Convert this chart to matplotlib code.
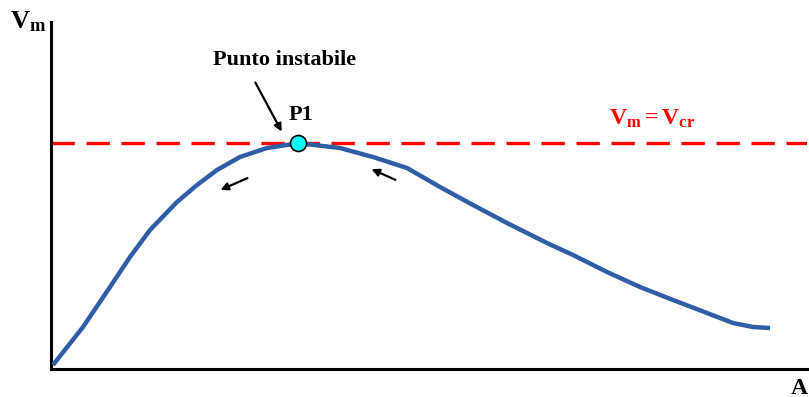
import matplotlib
matplotlib.use("Agg")
import matplotlib.pyplot as plt

plt.rcParams['font.family'] = ['Liberation Serif', 'DejaVu Serif']
plt.rcParams['mathtext.fontset'] = 'custom'
plt.rcParams['mathtext.rm'] = 'Liberation Serif:bold'
plt.rcParams['mathtext.bf'] = 'Liberation Serif:bold'
plt.rcParams['mathtext.it'] = 'Liberation Serif:bold'

# curve V_m(A), arbitrary units
a_vals = [2, 32, 59, 79, 99, 126, 146, 166, 189, 216, 239, 247, 259, 289, 322,
          356, 389, 422, 456, 496, 522, 556, 589, 622, 656, 682, 702, 719]
vm_vals = [4, 42, 82, 112, 139, 167, 184, 199, 212, 221, 224.5, 225, 224.5, 221, 212,
           201, 182, 164, 146, 126, 114, 97, 82, 69, 56, 46, 42, 41]
v_cr = 226
p1 = (247, 226)

fig = plt.figure(figsize=(8.09, 3.97), dpi=100)
ax = fig.add_axes([51 / 809, 28 / 397, 756 / 809, 347 / 397])
ax.set_xlim(0, 756)
ax.set_ylim(0, 347)

ax.axhline(v_cr, color='#ff0000', lw=2.4, ls=(0, (7, 3.5)), zorder=2)
ax.plot(a_vals, vm_vals, color='#2f5ea6', lw=3.2, zorder=3,
        solid_capstyle='butt', solid_joinstyle='round')
ax.plot(*p1, 'o', ms=11.5, mfc='#00ffff', mec='black', mew=1.2, zorder=4)

for s in ['top', 'right']:
    ax.spines[s].set_visible(False)
for s in ['left', 'bottom']:
    ax.spines[s].set_linewidth(2.2)
ax.set_xticks([])
ax.set_yticks([])

fig.text(10 / 809, 1 - 22 / 397, r'$V_m$', fontsize=19, va='center', ha='left')
fig.text(808 / 809, 1 - 388 / 397, 'A', fontsize=17, fontweight='bold', va='center', ha='right')

ax.text(285 - 51, 369 - 60, 'Punto instabile', fontsize=16, fontweight='bold',
        ha='center', va='center')
ax.text(301 - 51, 369 - 115, 'P1', fontsize=16, fontweight='bold', ha='center', va='center')
ax.text(652 - 51, 369 - 119, r'$V_m = V_{cr}$', fontsize=17, color='#ff0000',
        ha='center', va='center')

arrow = dict(arrowstyle='-|>', color='black', lw=1.6, mutation_scale=11)
ax.annotate('', xy=(283 - 51, 369 - 134), xytext=(254 - 51, 369 - 80), arrowprops=arrow)
ax.annotate('', xy=(218 - 51, 369 - 191), xytext=(250 - 51, 369 - 177), arrowprops=arrow)
ax.annotate('', xy=(369 - 51, 369 - 168), xytext=(398 - 51, 369 - 181), arrowprops=arrow)

fig.savefig('out.png', dpi=100)
